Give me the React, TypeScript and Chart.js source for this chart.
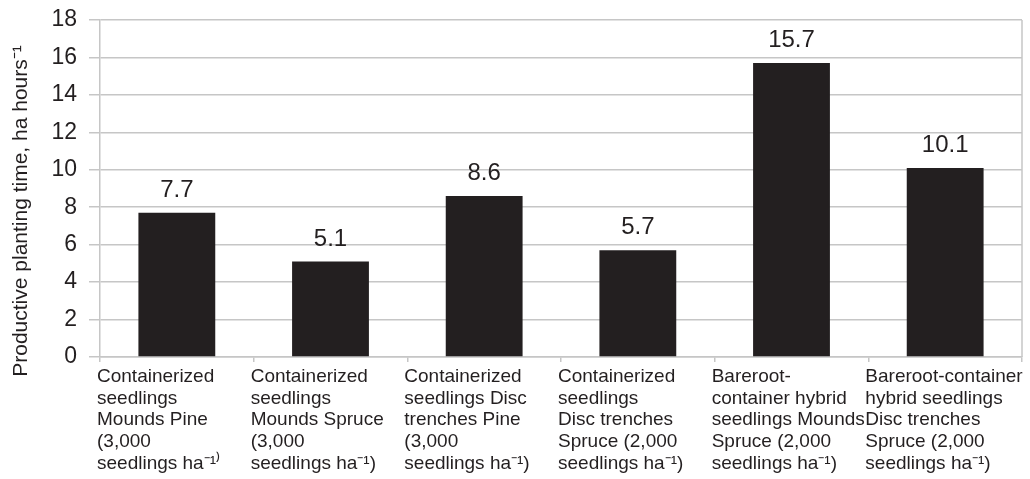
import React, { useEffect, useRef } from "react";
import { Chart, registerables } from "chart.js";

Chart.register(...registerables);

const categories: string[][] = [
  ["Containerized", "seedlings", "Mounds Pine", "(3,000", "seedlings ha⁻¹⁾"],
  ["Containerized", "seedlings", "Mounds Spruce", "(3,000", "seedlings ha⁻¹)"],
  ["Containerized", "seedlings Disc", "trenches Pine", "(3,000", "seedlings ha⁻¹)"],
  ["Containerized", "seedlings", "Disc trenches", "Spruce (2,000", "seedlings ha⁻¹)"],
  ["Bareroot-", "container hybrid", "seedlings Mounds", "Spruce (2,000", "seedlings ha⁻¹)"],
  ["Bareroot-container", "hybrid seedlings", "Disc trenches", "Spruce (2,000", "seedlings ha⁻¹)"],
];
const values: number[] = [7.7, 5.1, 8.6, 5.7, 15.7, 10.1];
const yTitle = "Productive planting time, ha hours⁻¹";

const FONT = "'Liberation Sans', Arial, sans-serif";
const TEXT = "#231f20";
const GRID = "#c6c6c6";

const overlay = {
  id: "overlay",
  afterDatasetsDraw(chart: any) {
    const { ctx, chartArea, scales } = chart;
    const x = scales.x;
    ctx.save();
    // right border
    ctx.strokeStyle = GRID;
    ctx.lineWidth = 1.5;
    ctx.beginPath();
    ctx.moveTo(chartArea.right, chartArea.top);
    ctx.lineTo(chartArea.right, chartArea.bottom);
    ctx.stroke();
    // data labels
    const meta = chart.getDatasetMeta(0);
    ctx.fillStyle = TEXT;
    ctx.font = `24px ${FONT}`;
    ctx.textAlign = "center";
    ctx.textBaseline = "alphabetic";
    meta.data.forEach((bar: any, i: number) => {
      ctx.fillText(values[i].toFixed(1), bar.x, bar.y - 16);
    });
    // x labels
    const cw = (chartArea.right - chartArea.left) / categories.length;
    ctx.font = `19px ${FONT}`;
    ctx.textAlign = "left";
    categories.forEach((lines, i) => {
      const left = x.getPixelForValue(i) - cw / 2 - 3;
      lines.forEach((ln, j) => {
        ctx.fillText(ln, left, 382 + j * 21.7);
      });
    });
    // y title
    ctx.font = `21px ${FONT}`;
    ctx.translate(27, 211);
    ctx.rotate(-Math.PI / 2);
    ctx.textAlign = "center";
    ctx.fillText(yTitle, 0, 0);
    ctx.restore();
  },
};

export default function App() {
  const ref = useRef<HTMLCanvasElement>(null);
  useEffect(() => {
    const chart = new Chart(ref.current!, {
      type: "bar",
      data: {
        labels: categories.map((c) => c.join(" ")),
        datasets: [
          {
            data: values,
            backgroundColor: "#231f20",
            borderWidth: 0,
            barPercentage: 0.5,
            categoryPercentage: 1,
          },
        ],
      },
      options: {
        animation: false,
        responsive: false,
        layout: { padding: { top: 20, right: 8, left: 0, bottom: 0 } },
        plugins: { legend: { display: false }, tooltip: { enabled: false } },
        scales: {
          x: {
            grid: {
              offset: true,
              color: GRID,
              lineWidth: 1.5,
              drawOnChartArea: false,
              tickLength: 5,
            },
            border: { color: GRID, width: 1.5 },
            ticks: { display: false },
            afterFit: (s: any) => {
              s.height = 122;
              s.paddingLeft = 0;
              s.paddingRight = 0;
            },
          },
          y: {
            min: 0,
            max: 18,
            ticks: {
              stepSize: 2,
              color: TEXT,
              font: { family: FONT, size: 23 },
              padding: 12,
            },
            grid: { color: GRID, lineWidth: 1.5, tickLength: 11 },
            border: { color: GRID, width: 1.5 },
            afterFit: (s: any) => {
              s.width = 100;
              s.paddingTop = 0;
              s.paddingBottom = 0;
            },
          },
        },
      },
      plugins: [overlay],
    });
    return () => chart.destroy();
  }, []);
  return (
    <div style={{ position: "fixed", left: 0, top: 0, width: 1030, height: 479, background: "#fff" }}>
      <canvas ref={ref} width={1030} height={479} style={{ display: "block" }} />
    </div>
  );
}
